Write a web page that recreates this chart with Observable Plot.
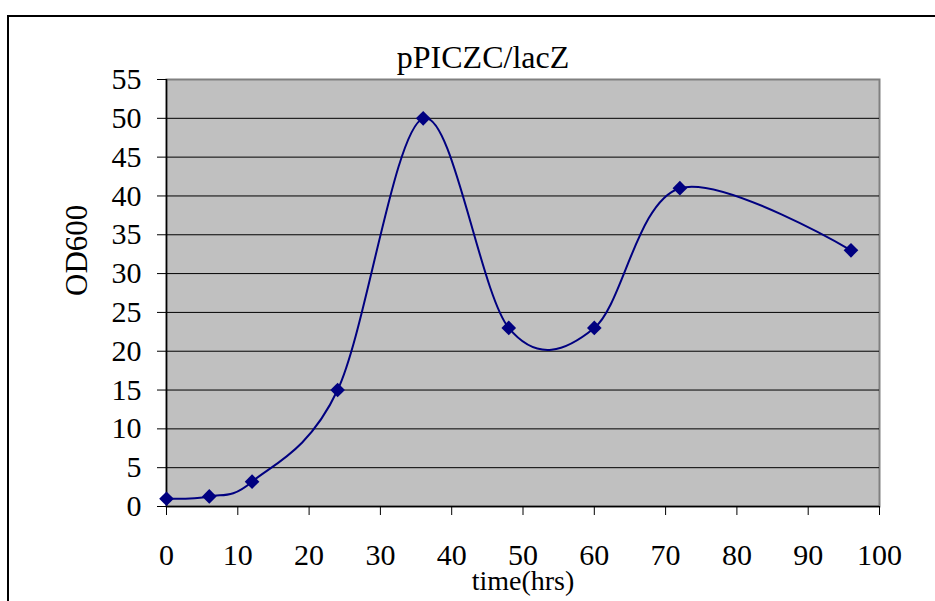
<!DOCTYPE html>
<html>
<head>
<meta charset="utf-8">
<script src="https://cdn.jsdelivr.net/npm/d3@7"></script>
<script src="https://cdn.jsdelivr.net/npm/@observablehq/plot@0.6"></script>
<style>
  html, body { margin: 0; padding: 0; background: #fff; overflow: hidden; }
  #wrap { position: relative; width: 935px; height: 601px; }
  #border { position: absolute; left: 7px; top: 15px; width: 1000px; height: 1000px;
            border-left: 2px solid #000; border-top: 2px solid #000; box-sizing: border-box; }
  #chart { position: absolute; left: 0; top: 0; }
</style>
</head>
<body>
<div id="wrap"><div id="border"></div><div id="chart"></div></div>
<script>
const hours = [0, 6, 12, 24, 36, 48, 60, 72, 96];
const od600 = [1, 1.3, 3.2, 15, 50, 23, 23, 41, 33];
const xTicks = [0, 10, 20, 30, 40, 50, 60, 70, 80, 90, 100];
const yTicks = [0, 5, 10, 15, 20, 25, 30, 35, 40, 45, 50, 55];
const titleText = "pPICZC/lacZ";
const xLabel = "time(hrs)";
const yLabel = "OD600";

const data = hours.map((h, i) => ({time: h, od: od600[i]}));
const navy = "#000080";

const chart = Plot.plot({
  width: 935,
  height: 601,
  marginLeft: 166,
  marginRight: 56,
  marginTop: 79,
  marginBottom: 95,
  style: {fontFamily: "'Liberation Serif', 'Times New Roman', serif", background: "transparent", color: "#000", overflow: "visible"},
  x: {domain: [0, 100]},
  y: {domain: [0, 55]},
  marks: [
    Plot.frame({fill: "#c0c0c0", stroke: "#808080", strokeWidth: 2}),
    Plot.gridY(yTicks.filter(d => d > 0 && d < 55), {stroke: "#000", strokeOpacity: 1, strokeWidth: 1}),
    Plot.ruleX([0], {stroke: "#000", strokeWidth: 1.5}),
    Plot.ruleY([0], {stroke: "#000", strokeWidth: 1.5}),
    Plot.axisX(xTicks, {tickSize: 9, tickPadding: 28, fontSize: 30, label: null, tickFormat: d => String(d)}),
    Plot.axisY(yTicks, {tickSize: 9, tickPadding: 16, fontSize: 30, label: null, tickFormat: d => String(d)}),
    Plot.line(data, {x: "time", y: "od", curve: "cardinal", stroke: navy, strokeWidth: 2}),
    Plot.dot(data, {x: "time", y: "od", symbol: "diamond2", fill: navy, stroke: "none", r: 6.6}),
    Plot.text([titleText], {frameAnchor: "top", lineAnchor: "bottom", dx: -40, dy: -12, fontSize: 32, fill: "#000"}),
    Plot.text([xLabel], {frameAnchor: "bottom", lineAnchor: "bottom", dy: 83, fontSize: 28, fill: "#000"}),
    Plot.text([yLabel], {frameAnchor: "left", rotate: -90, dx: -89, dy: 3, fontSize: 31, fill: "#000"})
  ]
});
document.getElementById("chart").appendChild(chart);
</script>
</body>
</html>
